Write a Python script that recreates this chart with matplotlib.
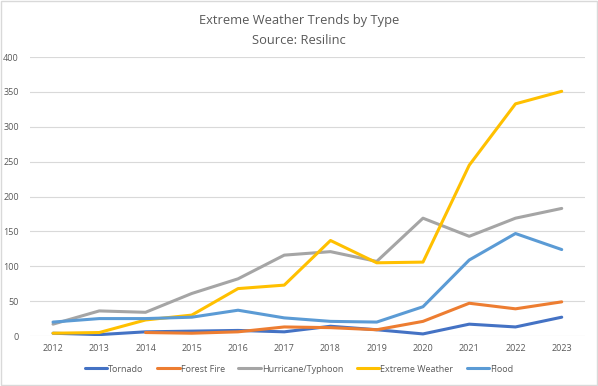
import matplotlib
matplotlib.use("Agg")
import matplotlib.pyplot as plt
import numpy as np

years = ["2012", "2013", "2014", "2015", "2016", "2017", "2018", "2019", "2020", "2021", "2022", "2023"]
tornado = [4, 2, 6, 7, 8, 6, 14, 9, 3, 17, 13, 27]
forest_fire = [np.nan, np.nan, 5, 4, 6, 13, 12, 9, 21, 47, 39, 49]
hurricane = [17, 36, 34, 61, 82, 116, 121, 107, 169, 143, 169, 183]
extreme = [4, 5, 23, 30, 68, 73, 137, 105, 106, 245, 333, 351]
flood = [20, 25, 25, 27, 37, 26, 21, 20, 42, 109, 147, 124]

series = [
    ("Tornado", tornado, "#4472C4"),
    ("Forest Fire", forest_fire, "#ED7D31"),
    ("Hurricane/Typhoon", hurricane, "#A5A5A5"),
    ("Extreme Weather", extreme, "#FFC000"),
    ("Flood", flood, "#5B9BD5"),
]

plt.rcParams['font.family'] = ['Open Sans', 'DejaVu Sans']
fig = plt.figure(figsize=(5.98, 3.86), dpi=100)
fig.patch.set_facecolor("white")
ax = fig.add_axes([0.050, 0.1295, 0.928, 0.7225])

x = np.arange(len(years))
for name, vals, color in series:
    ax.plot(x, vals, color=color, lw=2.2, label=name, solid_capstyle='round', solid_joinstyle='round')

ax.set_xlim(-0.5, len(years) - 0.5)
ax.set_ylim(0, 400)
ax.set_yticks(range(0, 401, 50))
ax.set_xticks(x)
ax.set_xticklabels(years)
ax.grid(axis='y', color='#D9D9D9', lw=0.8)
ax.set_axisbelow(True)
for s in ax.spines.values():
    s.set_visible(False)
ax.tick_params(axis='both', length=0, labelsize=6.5, colors='#595959', pad=6)
ax.tick_params(axis='y', pad=8)

fig.text(0.5, 0.948, "Extreme Weather Trends by Type", ha='center', va='center', fontsize=9.3, color='#595959')
fig.text(0.5, 0.896, "Source: Resilinc", ha='center', va='center', fontsize=9.3, color='#595959')

leg = fig.legend(loc='center', bbox_to_anchor=(0.5, 0.044), ncol=5, frameon=False,
                 fontsize=6.5, handlelength=2.5, handletextpad=0.1, columnspacing=1.5)
for t in leg.get_texts():
    t.set_color('#595959')

border = plt.Rectangle((0.002, 0.003), 0.996, 0.994, transform=fig.transFigure, fill=False,
                       edgecolor='#D9D9D9', lw=1.0)
fig.patches.append(border)

fig.savefig("out.png", dpi=100)
